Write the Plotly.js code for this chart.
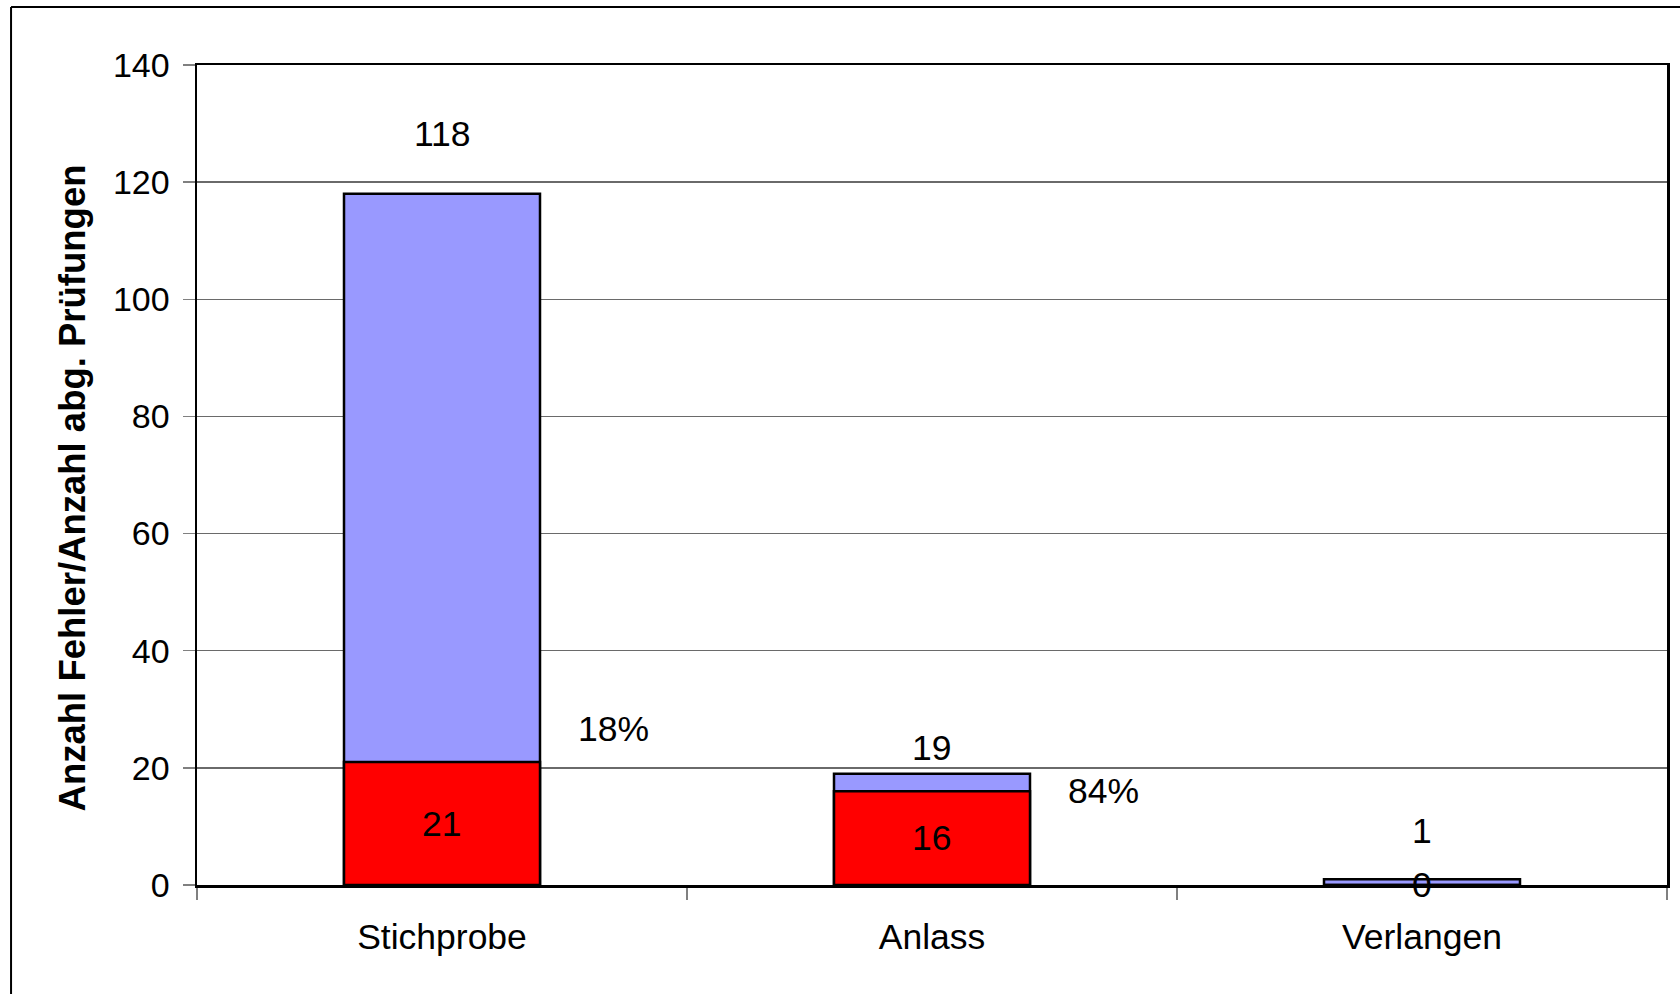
<!DOCTYPE html>
<html>
<head>
<meta charset="utf-8">
<script src="https://cdn.plot.ly/plotly-3.0.1.min.js"></script>
<style>
html,body{margin:0;padding:0;background:#fff;}
#chart{width:1680px;height:994px;}
</style>
</head>
<body>
<div id="chart"></div>
<script>
const categories = ["Stichprobe", "Anlass", "Verlangen"];
const totalTests = [118, 19, 1];
const errorCounts = [21, 16, 0];
const percentLabels = ["18%", "84%"];
const yTicks = [0, 20, 40, 60, 80, 100, 120, 140];
const yTitle = "Anzahl Fehler/Anzahl abg. Prüfungen";

const FONT = "Liberation Sans, Arial, Helvetica, sans-serif";
const FS = 35.5;

const traces = [
  {
    type: "bar", x: categories, y: totalTests, width: 0.4,
    marker: {color: "#9999FF", line: {color: "#000000", width: 2.5}},
    hoverinfo: "skip", showlegend: false
  },
  {
    type: "bar", x: categories, y: errorCounts, width: 0.4,
    marker: {color: "#FF0000", line: {color: "#000000", width: 2.5}},
    hoverinfo: "skip", showlegend: false
  }
];

const totalShift = [60, 26, 48];
const pctShift = [33, 0];
const annotations = [];
categories.forEach((c, i) => {
  annotations.push({x: c, y: totalTests[i], yshift: totalShift[i], text: String(totalTests[i]),
    showarrow: false, font: {family: FONT, size: FS, color: "#000"}});
  annotations.push({x: c, y: errorCounts[i] / 2, text: String(errorCounts[i]),
    showarrow: false, font: {family: FONT, size: FS, color: "#000"}});
});
percentLabels.forEach((p, i) => {
  annotations.push({x: i + 0.35, y: errorCounts[i], yshift: pctShift[i], text: p,
    showarrow: false, font: {family: FONT, size: FS, color: "#000"}});
});
// y-axis title (placed as rotated annotation to match original vertical offset)
annotations.push({xref: "paper", yref: "paper", x: -0.0844, y: 0.4848,
  xanchor: "center", yanchor: "middle", textangle: -90, showarrow: false,
  text: "<b>" + yTitle + "</b>", font: {family: FONT, size: 36.5, color: "#000"}});

const layout = {
  width: 1680, height: 994,
  margin: {l: 197, r: 13, t: 65, b: 109},
  paper_bgcolor: "#ffffff", plot_bgcolor: "#ffffff",
  font: {family: FONT, size: FS, color: "#000"},
  barmode: "overlay",
  showlegend: false,
  xaxis: {
    type: "category", range: [-0.5, 2.5],
    showline: true, linecolor: "#000", linewidth: 2.5, mirror: true,
    ticks: "outside", tickson: "boundaries", ticklen: 12, tickcolor: "#808080", tickwidth: 1.5,
    ticklabelstandoff: 19,
    showgrid: false, zeroline: false,
    tickfont: {family: FONT, size: FS, color: "#000"}
  },
  yaxis: {
    range: [0, 140], tickvals: yTicks,
    showline: true, linecolor: "#000", linewidth: 2.5, mirror: true,
    ticks: "outside", ticklen: 12, tickcolor: "#808080", tickwidth: 1.5,
    ticklabelstandoff: 6,
    showgrid: true, gridcolor: "#6a6a6a", gridwidth: 1.5,
    zeroline: false,
    tickfont: {family: FONT, size: 34, color: "#000"}
  },
  annotations: annotations,
  shapes: [
    {type: "line", xref: "paper", yref: "paper", x0: -0.1265, x1: 1.2, y0: 1.0707, y1: 1.0707,
     line: {color: "#000", width: 2}},
    {type: "line", xref: "paper", yref: "paper", x0: -0.1265, x1: -0.1265, y0: 1.0707, y1: -0.3,
     line: {color: "#000", width: 2}}
  ]
};

Plotly.newPlot("chart", traces, layout, {displayModeBar: false, staticPlot: true});
</script>
</body>
</html>
